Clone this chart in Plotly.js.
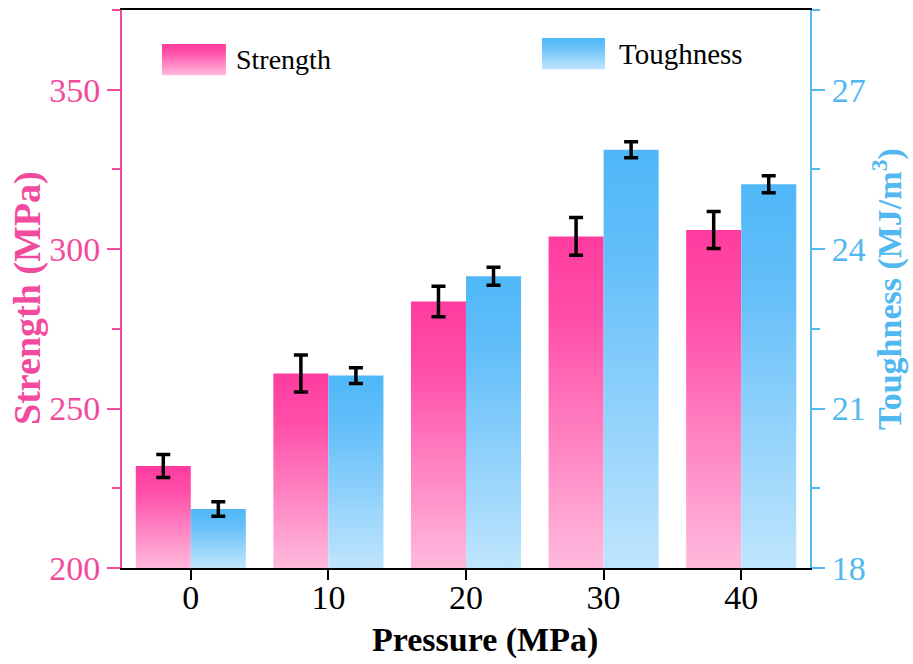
<!DOCTYPE html>
<html>
<head>
<meta charset="utf-8">
<script src="https://cdn.plot.ly/plotly-3.0.1.min.js"></script>
<style>html,body{margin:0;padding:0;background:#fff;}#chart{width:913px;height:664px;}</style>
</head>
<body>
<div id="chart"></div>
<script>
const pressure = ['0', '10', '20', '30', '40'];
const strength = [232, 261, 283.6, 304, 306];
const strengthErr = [3.6, 5.8, 4.8, 5.9, 5.8];
const toughness = [19.11, 21.62, 23.49, 25.87, 25.22];
const toughnessErr = [0.135, 0.15, 0.17, 0.15, 0.16];
const seriesNames = ['Strength', 'Toughness'];
const xTitle = 'Pressure (MPa)';
const yTitle = 'Strength (MPa)';

const PINK = '#f24b9e';
const BLUE = '#52b8f0';
const FONT = "'Liberation Serif', 'Times New Roman', serif";

const traces = [
  {
    type: 'bar', x: pressure, y: strength, name: seriesNames[0],
    yaxis: 'y', offsetgroup: '1',
    marker: {color: '#ff4aa3', line: {width: 0}},
    error_y: {type: 'data', array: strengthErr, visible: true, color: '#000', thickness: 3.5, width: 7},
    showlegend: false
  },
  {
    type: 'bar', x: pressure, y: toughness, name: seriesNames[1],
    yaxis: 'y2', offsetgroup: '2',
    marker: {color: '#55bbf8', line: {width: 0}},
    error_y: {type: 'data', array: toughnessErr, visible: true, color: '#000', thickness: 3.5, width: 7},
    showlegend: false
  }
];

const layout = {
  width: 913, height: 664,
  margin: {l: 122, r: 103, t: 10, b: 96},
  paper_bgcolor: '#fff', plot_bgcolor: '#fff',
  barmode: 'group', bargap: 0.2, bargroupgap: 0,
  font: {family: FONT, size: 32, color: '#000'},
  showlegend: false,
  xaxis: {
    type: 'category', range: [-0.5, 4.5],
    showline: true, linecolor: '#000', linewidth: 2, mirror: true,
    ticks: 'outside', ticklen: 10, tickwidth: 2, tickcolor: '#000',
    tickfont: {family: FONT, size: 34, color: '#000'},
    showgrid: false, zeroline: false
  },
  yaxis: {
    range: [200, 375], dtick: 50, tick0: 200,
    showline: true, linecolor: PINK, linewidth: 2,
    ticks: 'outside', ticklen: 13, tickwidth: 2, tickcolor: PINK,
    minor: {dtick: 25, ticks: 'outside', ticklen: 8, tickwidth: 2, tickcolor: PINK, showgrid: false},
    tickfont: {family: FONT, size: 34, color: PINK},
    showgrid: false, zeroline: false
  },
  yaxis2: {
    overlaying: 'y', side: 'right',
    range: [18, 28.5], dtick: 3, tick0: 18,
    showline: true, linecolor: BLUE, linewidth: 2,
    ticks: 'outside', ticklen: 13, tickwidth: 2, tickcolor: BLUE,
    minor: {dtick: 1.5, ticks: 'outside', ticklen: 8, tickwidth: 2, tickcolor: BLUE, showgrid: false},
    tickfont: {family: FONT, size: 34, color: BLUE},
    showgrid: false, zeroline: false,
    title: {text: '<b>Toughness (MJ/m<sup>3</sup>)</b>', font: {family: FONT, size: 34, color: BLUE}, standoff: 8}
  },
  shapes: [
    {type: 'rect', xref: 'paper', yref: 'paper', x0: 0.058, x1: 0.151, y0: 0.883, y1: 0.939, fillcolor: '#ff4aa3', line: {width: 0}, layer: 'above'},
    {type: 'rect', xref: 'paper', yref: 'paper', x0: 0.6105, x1: 0.702, y0: 0.894, y1: 0.95, fillcolor: '#55bbf8', line: {width: 0}, layer: 'above'}
  ],
  annotations: [
    {xref: 'paper', yref: 'paper', x: 0.163, y: 0.911, xanchor: 'left', yanchor: 'middle', text: seriesNames[0], showarrow: false, font: {family: FONT, size: 28, color: '#000'}},
    {xref: 'paper', yref: 'paper', x: 0.72, y: 0.922, xanchor: 'left', yanchor: 'middle', text: seriesNames[1], showarrow: false, font: {family: FONT, size: 29, color: '#000'}},
    {xref: 'paper', yref: 'paper', x: 0.528, y: -0.129, xanchor: 'center', yanchor: 'middle', text: '<b>' + xTitle + '</b>', showarrow: false, font: {family: FONT, size: 34, color: '#000'}},
    {xref: 'paper', yref: 'paper', x: -0.1366, y: 0.484, xanchor: 'center', yanchor: 'middle', textangle: -90, text: '<b>' + yTitle + '</b>', showarrow: false, font: {family: FONT, size: 38, color: PINK}}
  ]
};

const ns = 'http://www.w3.org/2000/svg';
const palettes = [
  [[0, '#ff3c9f'], [0.25, '#ff4ea8'], [1, '#ffbadd']],
  [[0, '#4fb7f8'], [0.25, '#62bef9'], [1, '#bfe5fd']]
];

function makeGrad(defs, id, stops, units, y1, y2) {
  const old = defs.querySelector('#' + id);
  if (old) old.remove();
  const lg = document.createElementNS(ns, 'linearGradient');
  lg.setAttribute('id', id);
  lg.setAttribute('gradientUnits', units);
  lg.setAttribute('x1', '0'); lg.setAttribute('x2', '0');
  lg.setAttribute('y1', String(y1)); lg.setAttribute('y2', String(y2));
  stops.forEach(s => {
    const st = document.createElementNS(ns, 'stop');
    st.setAttribute('offset', String(s[0]));
    st.setAttribute('stop-color', s[1]);
    lg.appendChild(st);
  });
  defs.appendChild(lg);
}

function decorate(gd) {
  const svg = gd.querySelector('svg.main-svg');
  if (!svg) return;
  let defs = svg.querySelector('defs');
  if (!defs) { defs = document.createElementNS(ns, 'defs'); svg.insertBefore(defs, svg.firstChild); }
  const plotH = gd._fullLayout._size.h;
  gd.querySelectorAll('.barlayer .trace').forEach((t, i) => {
    t.querySelectorAll('.point path').forEach((p, j) => {
      const bb = p.getBBox();
      const id = 'bg' + i + '_' + j;
      makeGrad(defs, id, palettes[i % 2], 'userSpaceOnUse', bb.y, Math.min(plotH, bb.y + bb.height));
      p.style.setProperty('fill', 'url(#' + id + ')', 'important');
    });
  });
  gd.querySelectorAll('.shapelayer path').forEach(p => {
    const idx = parseInt(p.getAttribute('data-index'), 10);
    if (idx === 0 || idx === 1) {
      const id = 'lg' + idx;
      makeGrad(defs, id, palettes[idx], 'objectBoundingBox', 0, 1);
      p.style.setProperty('fill', 'url(#' + id + ')', 'important');
    }
  });
  gd.querySelectorAll('.xaxislayer-above .xtick text').forEach(tx => {
    if (tx.dataset.nudged) return;
    tx.dataset.nudged = '1';
    const tr = tx.getAttribute('transform') || '';
    tx.setAttribute('transform', 'translate(0,-12) ' + tr);
  });
}

Plotly.newPlot('chart', traces, layout, {staticPlot: true}).then(gd => {
  decorate(gd);
});
</script>
</body>
</html>
